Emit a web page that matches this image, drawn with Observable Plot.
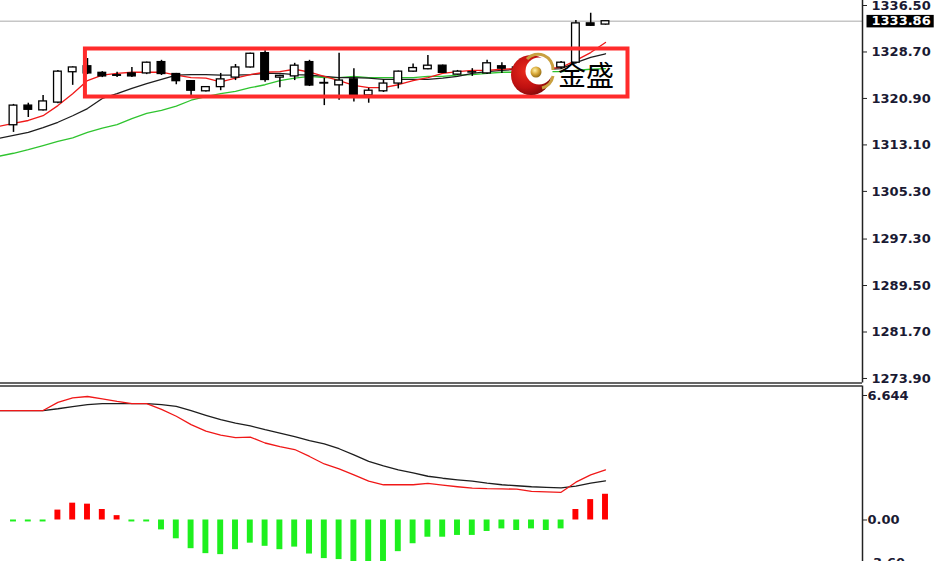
<!DOCTYPE html>
<html><head><meta charset="utf-8">
<script src="https://cdn.jsdelivr.net/npm/d3@7"></script>
<script src="https://cdn.jsdelivr.net/npm/@observablehq/plot@0.6"></script>
<style>
html,body{margin:0;padding:0;background:#fff;}
#wrap{position:relative;width:936px;height:561px;overflow:hidden;background:#fff;}
#main{position:absolute;left:0;top:0;z-index:2;}
#macd{position:absolute;left:0;top:384px;z-index:1;}
#logo{position:absolute;left:0;top:0;pointer-events:none;z-index:3;}
#wrap svg{overflow:visible;}
</style></head><body>
<div id="wrap"><div id="main"></div><div id="macd"></div>
<svg id="logo" width="936" height="561" viewBox="0 0 936 561"></svg></div>
<script>
// ---------- data ----------
const opens  = [1316.4,1319.7,1318.9,1320.2,1325.3,1326.3,1325.2,1324.8,1325.1,1325.1,1327.0,1325.0,1323.8,1322.1,1322.8,1324.4,1326.1,1328.5,1324.4,1324.6,1327.0,1323.5,1323.1,1324.1,1321.4,1322.1,1323.4,1325.4,1325.8,1326.4,1324.9,1325.25,1325.1,1326.3,1325.9,1326.1,1325.9,1326.1,1326.9,1333.5,1333.3];
const highs  = [1319.9,1320.1,1321.4,1325.6,1326.2,1327.6,1325.4,1325.3,1326.1,1327.0,1327.3,1325.1,1323.9,1322.9,1325.1,1326.6,1328.5,1328.9,1324.8,1326.8,1327.3,1324.3,1328.5,1325.9,1322.6,1324.0,1325.5,1326.7,1328.1,1326.5,1325.6,1325.9,1327.3,1326.9,1326.5,1326.4,1326.2,1327.1,1334.0,1335.2,1333.9];
const lows   = [1315.2,1317.7,1318.8,1320.0,1323.1,1324.9,1324.4,1324.4,1324.4,1324.9,1324.75,1323.2,1321.4,1322.0,1322.2,1323.9,1326.0,1323.6,1322.7,1323.9,1322.9,1319.7,1320.6,1320.3,1320.1,1321.9,1322.5,1325.3,1325.7,1325.1,1324.8,1324.6,1324.9,1325.1,1325.5,1325.4,1325.1,1325.8,1326.7,1333.0,1333.2];
const closes = [1319.7,1319.0,1320.4,1325.4,1326.1,1325.1,1324.6,1324.7,1324.6,1326.9,1325.0,1323.8,1322.2,1322.8,1324.1,1326.1,1328.4,1324.0,1324.7,1326.4,1323.07,1323.4,1323.9,1321.2,1322.2,1323.4,1325.4,1326.0,1326.4,1325.2,1325.4,1325.3,1326.8,1325.9,1326.1,1325.8,1325.4,1326.9,1333.5,1333.1,1333.86];
// moving averages, bar index -1 .. 40
const maFast = [1316.2,1316.7,1317.2,1318.0,1319.7,1321.7,1323.9,1324.8,1325.1,1325.3,1325.3,1325.3,1324.8,1324.4,1324.3,1323.7,1324.3,1324.9,1325.3,1325.4,1325.8,1325.3,1324.6,1323.9,1323.1,1322.7,1322.7,1323.2,1323.9,1324.4,1325.1,1325.4,1325.6,1325.6,1325.8,1325.9,1325.9,1325.9,1326.1,1327.3,1328.6,1330.3];
const maMid  = [1314.2,1314.7,1315.2,1316.0,1316.9,1318.0,1319.2,1320.9,1321.7,1322.6,1323.4,1324.1,1324.8,1324.9,1324.9,1324.8,1324.8,1324.9,1325.1,1325.1,1324.9,1324.8,1324.6,1324.4,1324.4,1324.3,1324.1,1324.1,1324.1,1324.1,1324.3,1324.6,1325.1,1325.4,1325.6,1325.8,1325.8,1325.8,1325.9,1326.9,1327.8,1328.4];
const maSlow = [1311.2,1311.7,1312.3,1313.0,1313.7,1314.3,1315.2,1315.9,1316.5,1317.5,1318.4,1318.9,1319.6,1320.6,1321.2,1321.7,1322.1,1322.7,1323.2,1323.9,1324.3,1324.6,1324.4,1324.4,1324.6,1324.4,1324.4,1324.4,1324.4,1324.6,1324.6,1324.8,1324.9,1325.1,1325.3,1325.3,1325.4,1325.4,1325.4,1325.6,1325.8,1325.9];
// MACD, lines index -1 .. 40, histogram index 0 .. 40
const macdDif = [5.53,5.53,5.53,5.53,5.94,6.17,6.24,6.12,5.99,5.88,5.88,5.59,5.24,4.82,4.49,4.29,4.16,4.19,3.89,3.71,3.56,3.21,2.83,2.58,2.28,1.96,1.78,1.78,1.78,1.85,1.76,1.68,1.61,1.58,1.57,1.56,1.45,1.42,1.40,1.91,2.28,2.53];
const macdDea = [5.53,5.53,5.53,5.53,5.62,5.73,5.83,5.88,5.88,5.88,5.88,5.83,5.74,5.52,5.29,5.07,4.89,4.75,4.56,4.39,4.21,4.01,3.84,3.60,3.29,2.96,2.73,2.53,2.38,2.21,2.11,2.03,1.96,1.86,1.78,1.73,1.68,1.65,1.62,1.71,1.86,1.98];
const macdHist = [-0.1,-0.1,-0.1,0.5,0.85,0.8,0.53,0.22,-0.1,-0.1,-0.5,-0.95,-1.45,-1.7,-1.75,-1.5,-1.17,-1.33,-1.5,-1.37,-1.72,-1.95,-2.0,-2.15,-2.15,-2.1,-1.6,-1.2,-0.87,-0.87,-0.78,-0.78,-0.58,-0.45,-0.53,-0.45,-0.53,-0.45,0.53,1.03,1.3];
const priceTicks = [1336.50,1328.70,1320.90,1313.10,1305.30,1297.30,1289.50,1281.70,1273.90];
const lastPrice = 1333.86;
const macdTopLabel = 6.644;
const macdZero = 0;
const macdBottomLabel = "-3.60";
const boxFrom = 4.86, boxTo = 41.52, boxLow = 1321.14, boxHigh = 1329.2;
const brand = "金盛";

// ---------- derived tables ----------
const candles = opens.map((o, i) => ({i, o, h: highs[i], l: lows[i], c: closes[i]}));
const upC = candles.filter(d => d.c >= d.o);
const dnC = candles.filter(d => d.c < d.o);
const series = arr => arr.map((v, k) => ({i: k - 1, v}));
const hist = macdHist.map((v, i) => ({i, v}));

const W = 936, MR = 74;
const xDomain = [-0.878, 57.365];
const yMain = [1273.14, 1337.34];
const yMacd = [-2.552, 6.77];
const axisColor = "#1a1a33";
const baseStyle = {fontFamily: "DejaVu Sans", fontSize: "13px", fontWeight: "bold", background: "transparent", color: axisColor, overflow: "visible"};

const main = Plot.plot({
  width: W, height: 384, marginLeft: 0, marginRight: MR, marginTop: 0, marginBottom: 1.5,
  x: {type: "linear", domain: xDomain, axis: null},
  y: {domain: yMain, axis: null},
  style: baseStyle,
  marks: [
    Plot.ruleY([lastPrice], {stroke: "#c6c6c6", strokeWidth: 1.4}),
    Plot.line(series(maSlow), {x: "i", y: "v", stroke: "#2fc42f", strokeWidth: 1.3, clip: true}),
    Plot.line(series(maMid), {x: "i", y: "v", stroke: "#1e1e1e", strokeWidth: 1.3, clip: true}),
    Plot.line(series(maFast), {x: "i", y: "v", stroke: "#f01818", strokeWidth: 1.3, clip: true}),
    Plot.ruleX(candles, {x: "i", y1: "l", y2: "h", stroke: "#000", strokeWidth: 1.5}),
    Plot.rect(upC, {x1: d => d.i - 0.26, x2: d => d.i + 0.26, y1: "o", y2: "c", fill: "#fff", stroke: "#000", strokeWidth: 1.3}),
    Plot.rect(dnC, {x1: d => d.i - 0.26, x2: d => d.i + 0.26, y1: "o", y2: "c", fill: "#000", stroke: "#000", strokeWidth: 1.3}),
    Plot.rect([{x1: boxFrom, x2: boxTo, y1: boxLow, y2: boxHigh}], {x1: "x1", x2: "x2", y1: "y1", y2: "y2", fill: "none", stroke: "#ff2b2b", strokeWidth: 4}),
    Plot.ruleX([xDomain[1]], {stroke: "#222", strokeWidth: 1.5}),
    Plot.ruleY([yMain[0]], {stroke: "#333", strokeWidth: 1.3}),
    Plot.axisY(priceTicks, {anchor: "right", label: null, tickSize: 4, tickPadding: 5, tickFormat: d => d.toFixed(2), stroke: "#222", fill: axisColor}),
    Plot.text([lastPrice], {y: d => d, frameAnchor: "right", textAnchor: "start", dx: 9, text: d => d.toFixed(2), fill: "#fff"})
  ]
});
document.getElementById("main").appendChild(main);

// black box behind the last-price label
d3.select(main).selectAll("text").filter(function() { return this.textContent === lastPrice.toFixed(2); }).each(function() {
  const b = this.getBBox();
  const r = document.createElementNS("http://www.w3.org/2000/svg", "rect");
  r.setAttribute("x", b.x - 5); r.setAttribute("y", b.y + 1.5);
  r.setAttribute("width", b.width + 8); r.setAttribute("height", b.height - 2.5);
  r.setAttribute("fill", "#000");
  if (this.getAttribute("transform")) r.setAttribute("transform", this.getAttribute("transform"));
  this.parentNode.insertBefore(r, this);
});

const macd = Plot.plot({
  width: W, height: 186, marginLeft: 0, marginRight: MR, marginTop: 1.5, marginBottom: 0,
  x: {type: "linear", domain: xDomain, axis: null},
  y: {domain: yMacd, axis: null},
  style: baseStyle,
  marks: [
    Plot.rect(hist.filter(d => d.v >= 0), {x1: d => d.i - 0.2, x2: d => d.i + 0.2, y1: d => 0, y2: "v", fill: "#ff0000"}),
    Plot.rect(hist.filter(d => d.v < 0), {x1: d => d.i - 0.2, x2: d => d.i + 0.2, y1: d => 0, y2: "v", fill: "#1ef01e"}),
    Plot.line(series(macdDea), {x: "i", y: "v", stroke: "#1e1e1e", strokeWidth: 1.3, clip: true}),
    Plot.line(series(macdDif), {x: "i", y: "v", stroke: "#f01818", strokeWidth: 1.3, clip: true}),
    Plot.ruleX([xDomain[1]], {stroke: "#222", strokeWidth: 1.5}),
    Plot.ruleY([yMacd[1]], {stroke: "#333", strokeWidth: 1.3}),
    Plot.axisY([macdZero], {anchor: "right", label: null, tickSize: 4, tickPadding: 1, tickFormat: d => d.toFixed(2), stroke: "#222", fill: axisColor}),
    Plot.axisY([macdTopLabel], {anchor: "right", label: null, tickSize: 4, tickPadding: 1, tickFormat: d => d.toFixed(3), stroke: "#222", fill: axisColor, dy: 7}),
    Plot.text([macdBottomLabel], {frameAnchor: "bottom-right", textAnchor: "start", dx: 5, dy: -4, text: d => d, fill: axisColor})
  ]
});
document.getElementById("macd").appendChild(macd);

// ---------- brand watermark ----------
const logo = d3.select("#logo");
const defs = logo.append("defs");
const rg = defs.append("radialGradient").attr("id", "rg").attr("cx", "38%").attr("cy", "40%").attr("r", "70%");
rg.append("stop").attr("offset", "0").attr("stop-color", "#ea2a1c");
rg.append("stop").attr("offset", "0.6").attr("stop-color", "#bf1010");
rg.append("stop").attr("offset", "1").attr("stop-color", "#760606");
const gg = defs.append("radialGradient").attr("id", "gg").attr("cx", "40%").attr("cy", "35%").attr("r", "70%");
gg.append("stop").attr("offset", "0").attr("stop-color", "#fff2a8");
gg.append("stop").attr("offset", "0.5").attr("stop-color", "#d9a93a");
gg.append("stop").attr("offset", "1").attr("stop-color", "#8a6410");
logo.append("circle").attr("cx", 531).attr("cy", 75).attr("r", 20).attr("fill", "url(#rg)");
logo.append("circle").attr("cx", 539).attr("cy", 71).attr("r", 13.5).attr("fill", "#fff");
logo.append("path").attr("d", "M 527 59 A 15 15 0 0 1 553 70").attr("fill", "none").attr("stroke", "#c9a040").attr("stroke-width", 3);
logo.append("path").attr("d", "M 553 76 A 15 15 0 0 1 542 88").attr("fill", "none").attr("stroke", "#c9a040").attr("stroke-width", 3);
logo.append("circle").attr("cx", 536).attr("cy", 72).attr("r", 5.5).attr("fill", "url(#gg)");
logo.append("text").attr("x", 558).attr("y", 86).attr("font-family", "Noto Sans CJK SC").attr("font-size", 28).attr("fill", "#000").text(brand);
</script>
</body></html>
